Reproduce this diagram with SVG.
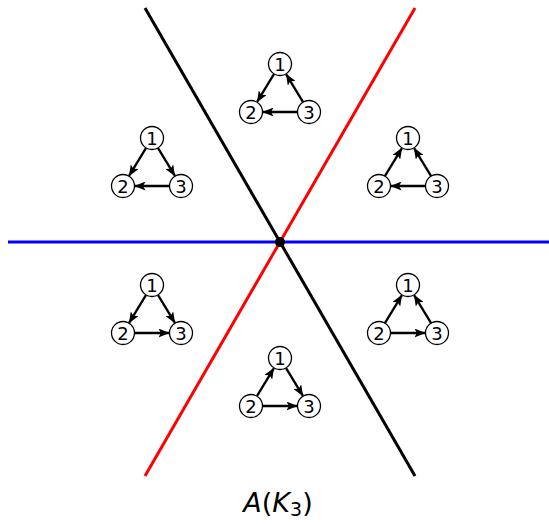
<svg xmlns="http://www.w3.org/2000/svg" width="549" height="524" viewBox="0 0 549 524">
<style>
.n circle{fill:#fff;stroke:#000;stroke-width:1.3}
.n text{font-family:"DejaVu Sans","Liberation Sans",sans-serif;font-size:18px;text-anchor:middle;fill:#000}
.e line{stroke:#000;stroke-width:2.3;marker-end:url(#ah)}
.lbl{font-family:"DejaVu Sans","Liberation Sans",sans-serif;font-size:27px;fill:#000}
</style>
<defs>
<marker id="ah" markerUnits="userSpaceOnUse" markerWidth="11" markerHeight="9" refX="10.5" refY="4.5" orient="auto">
<path d="M0,0 L11,4.5 L0,9 L2.5,4.5 z" fill="#000"/>
</marker>
</defs>
<g id="arrangement">
<line x1="8" y1="242" x2="549" y2="242" stroke="#0000ff" stroke-width="3"/>
<line x1="145" y1="8" x2="415" y2="476" stroke="#000" stroke-width="3"/>
<line x1="415" y1="8" x2="145" y2="476" stroke="#ff0000" stroke-width="3"/>
<circle cx="280" cy="242" r="5" fill="#000"/>
</g>
<g id="connectors">
<g class="e" transform="translate(280,64)">
<line x1="-5.9" y1="9.8" x2="-22.8" y2="37.7"/>
<line x1="23.1" y1="38.2" x2="6.2" y2="10.3"/>
<line x1="17.5" y1="48" x2="-17" y2="48"/>
</g>
<g class="e" transform="translate(152,138)">
<line x1="-5.9" y1="9.8" x2="-22.8" y2="37.7"/>
<line x1="5.9" y1="9.8" x2="22.8" y2="37.7"/>
<line x1="17.5" y1="48" x2="-17" y2="48"/>
</g>
<g class="e" transform="translate(408,138)">
<line x1="-23.1" y1="38.2" x2="-6.2" y2="10.3"/>
<line x1="23.1" y1="38.2" x2="6.2" y2="10.3"/>
<line x1="17.5" y1="48" x2="-17" y2="48"/>
</g>
<g class="e" transform="translate(152,285)">
<line x1="-5.9" y1="9.8" x2="-22.8" y2="37.7"/>
<line x1="5.9" y1="9.8" x2="22.8" y2="37.7"/>
<line x1="-17.5" y1="48" x2="17" y2="48"/>
</g>
<g class="e" transform="translate(408,285)">
<line x1="-23.1" y1="38.2" x2="-6.2" y2="10.3"/>
<line x1="23.1" y1="38.2" x2="6.2" y2="10.3"/>
<line x1="-17.5" y1="48" x2="17" y2="48"/>
</g>
<g class="e" transform="translate(280,358)">
<line x1="-23.1" y1="38.2" x2="-6.2" y2="10.3"/>
<line x1="5.9" y1="9.8" x2="22.8" y2="37.7"/>
<line x1="-17.5" y1="48" x2="17" y2="48"/>
</g>
</g>
<g id="top" class="n" transform="translate(280,64)">
<circle cx="0" cy="0" r="11.5"/><text x="0" y="6.5">1</text>
<circle cx="-29" cy="48" r="11.5"/><text x="-29" y="54.5">2</text>
<circle cx="29" cy="48" r="11.5"/><text x="29" y="54.5">3</text>
</g>
<g id="upper-left" class="n" transform="translate(152,138)">
<circle cx="0" cy="0" r="11.5"/><text x="0" y="6.5">1</text>
<circle cx="-29" cy="48" r="11.5"/><text x="-29" y="54.5">2</text>
<circle cx="29" cy="48" r="11.5"/><text x="29" y="54.5">3</text>
</g>
<g id="upper-right" class="n" transform="translate(408,138)">
<circle cx="0" cy="0" r="11.5"/><text x="0" y="6.5">1</text>
<circle cx="-29" cy="48" r="11.5"/><text x="-29" y="54.5">2</text>
<circle cx="29" cy="48" r="11.5"/><text x="29" y="54.5">3</text>
</g>
<g id="lower-left" class="n" transform="translate(152,285)">
<circle cx="0" cy="0" r="11.5"/><text x="0" y="6.5">1</text>
<circle cx="-29" cy="48" r="11.5"/><text x="-29" y="54.5">2</text>
<circle cx="29" cy="48" r="11.5"/><text x="29" y="54.5">3</text>
</g>
<g id="lower-right" class="n" transform="translate(408,285)">
<circle cx="0" cy="0" r="11.5"/><text x="0" y="6.5">1</text>
<circle cx="-29" cy="48" r="11.5"/><text x="-29" y="54.5">2</text>
<circle cx="29" cy="48" r="11.5"/><text x="29" y="54.5">3</text>
</g>
<g id="bottom" class="n" transform="translate(280,358)">
<circle cx="0" cy="0" r="11.5"/><text x="0" y="6.5">1</text>
<circle cx="-29" cy="48" r="11.5"/><text x="-29" y="54.5">2</text>
<circle cx="29" cy="48" r="11.5"/><text x="29" y="54.5">3</text>
</g>
<g id="caption">
<text class="lbl" x="278" y="512" text-anchor="middle"><tspan font-style="italic">A</tspan>(<tspan font-style="italic">K</tspan><tspan font-size="19" dy="4">3</tspan><tspan dy="-4">)</tspan></text>
</g>
</svg>
